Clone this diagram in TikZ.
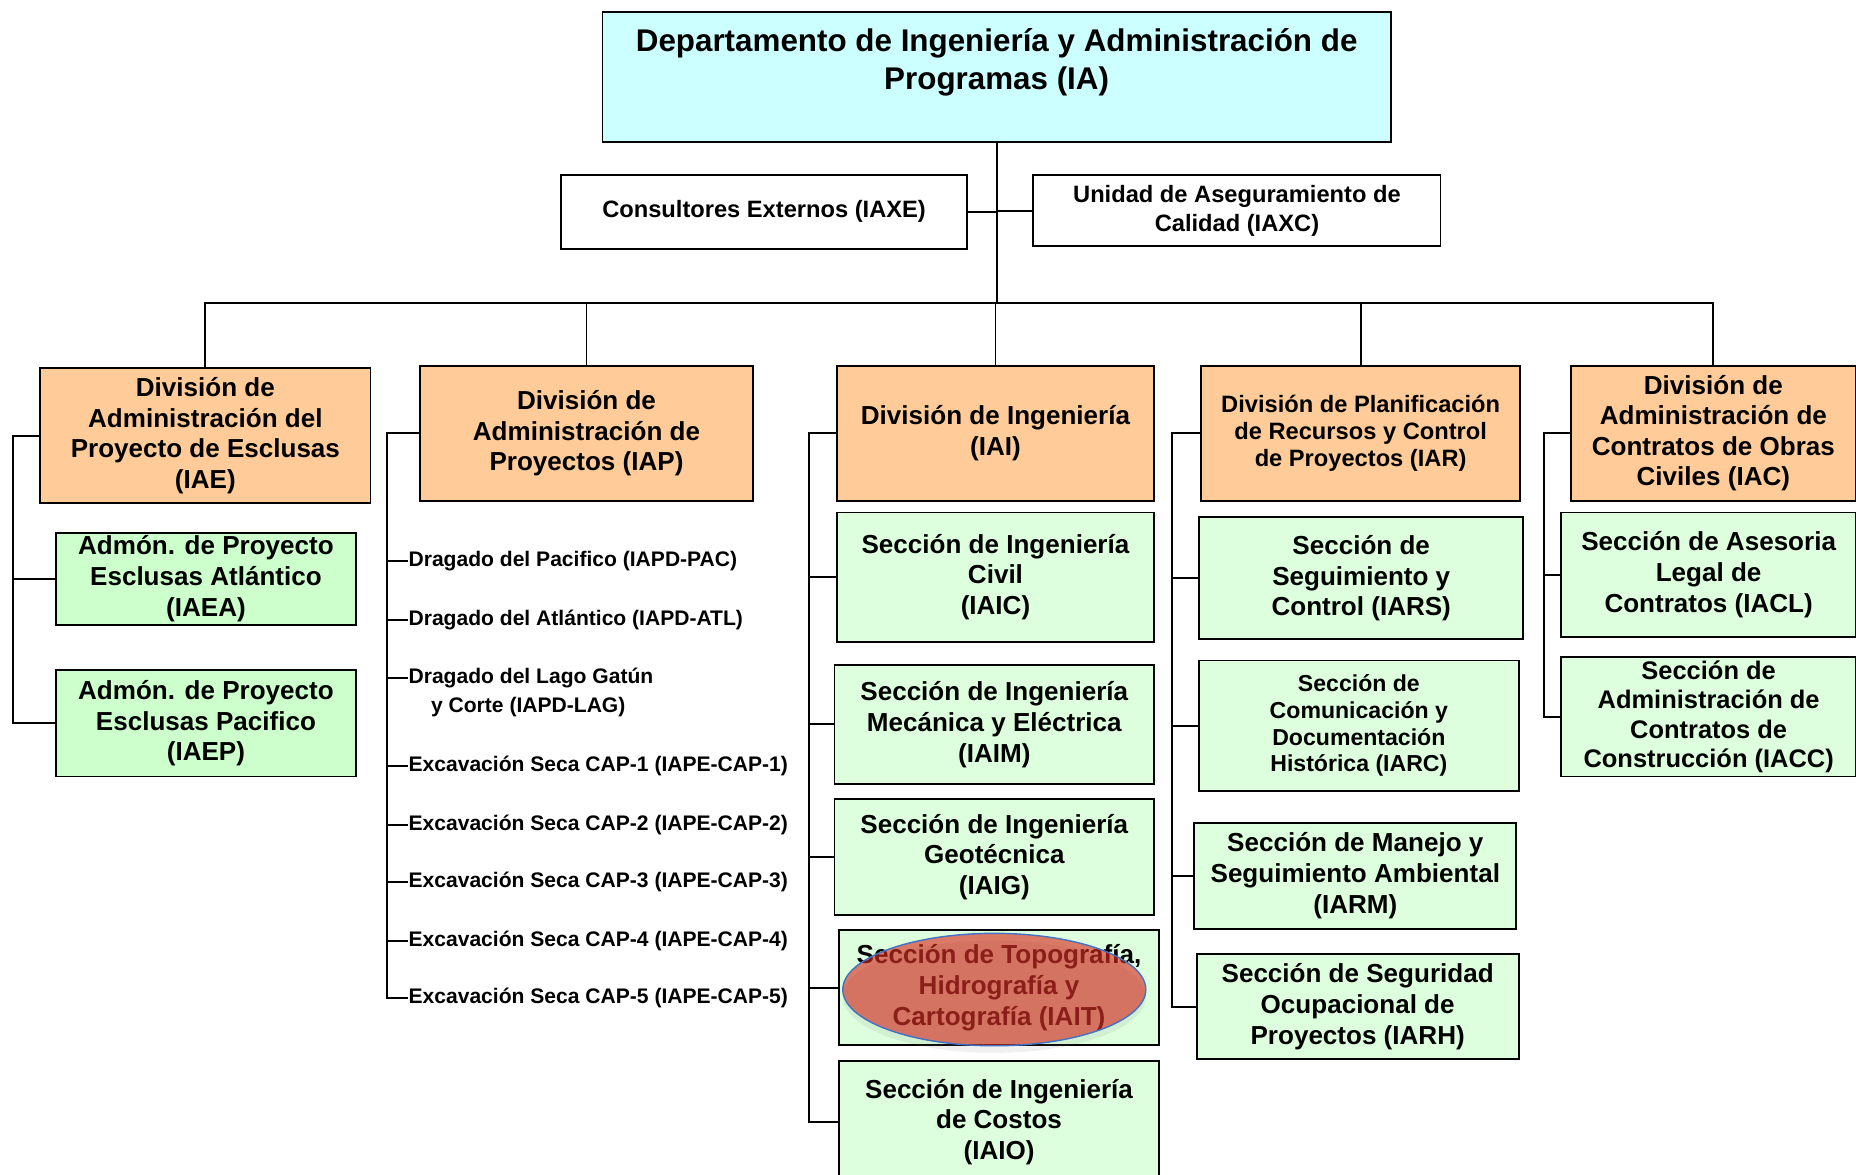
\documentclass[tikz,border=0pt]{standalone}
\usepackage{fontspec}
\setmainfont{Liberation Sans}
\usetikzlibrary{shapes.geometric,shadows}

\definecolor{iacyan}{HTML}{CCFFFF}
\definecolor{divorange}{HTML}{FFCC99}
\definecolor{secgreen}{HTML}{DDFFDD}
\definecolor{admgreen}{HTML}{CCFFCC}
\definecolor{markred}{RGB}{215,40,30}
\definecolor{markblue}{HTML}{4472C4}

\begin{document}
\begin{tikzpicture}[x=1pt,y=-1pt,
        box/.style={draw,line width=1.6pt,inner sep=2pt,align=center,
            font=\bfseries\fontsize{22}{26}\selectfont},
        div/.style={box,fill=divorange,minimum height=114pt},
        sec/.style={box,fill=secgreen},
        adm/.style={box,fill=admgreen,minimum width=254pt},
        item/.style={anchor=west,inner sep=0pt,
            font=\bfseries\fontsize{17.8}{21}\selectfont},
        link/.style={line width=1.6pt}]
\useasboundingbox (0,0) rectangle (1568,992);

% jefatura
\node[box,fill=iacyan,minimum width=666pt,minimum height=110pt] (ia) at (842,65) {};
\node[inner sep=0pt,align=center,font=\bfseries\fontsize{26.5}{32}\selectfont] (iatxt) at (842,53)
    {Departamento de Ingeniería y Administración de\\Programas (IA)};
\node[box,fill=white,minimum width=343pt,minimum height=62pt,
    font=\bfseries\fontsize{20}{24}\selectfont] (iaxe) at (645.5,179) {Consultores Externos (IAXE)};
\node[box,fill=white,minimum width=344pt,minimum height=60pt,
    font=\bfseries\fontsize{20}{24}\selectfont] (iaxc) at (1045,178) {Unidad de Aseguramiento de\\Calidad (IAXC)};

% divisiones
\node[div,minimum width=279pt] (iae) at (173.5,368) {División de\\Administración del\\Proyecto de Esclusas\\(IAE)};
\node[div,minimum width=281pt] (iap) at (495.5,366) {División de\\Administración de\\Proyectos (IAP)};
\node[div,minimum width=268pt] (iai) at (841,366) {División de Ingeniería\\(IAI)};
\node[div,minimum width=269pt,font=\bfseries\fontsize{20}{23}\selectfont] (iar) at (1149.5,366)
    {División de Planificación\\de Recursos y Control\\de Proyectos (IAR)};
\node[div,minimum width=241pt,font=\bfseries\fontsize{22}{25.5}\selectfont] (iac) at (1447.5,366)
    {División de\\Administración de\\Contratos de Obras\\Civiles (IAC)};

% IAE
\node[adm,minimum height=78pt] (iaea) at (174,489) {Admón. de Proyecto\\Esclusas Atlántico\\(IAEA)};
\node[adm,minimum height=90pt] (iaep) at (174,611) {Admón. de Proyecto\\Esclusas Pacifico\\(IAEP)};

% IAP
\node[item] (pac) at (345,474) {Dragado del Pacifico (IAPD-PAC)};
\node[item] (atl) at (345,524) {Dragado del Atlántico (IAPD-ATL)};
\node[item] (lag) at (345,573) {Dragado del Lago Gatún};
\node[item] (lagb) at (364,597) {y Corte (IAPD-LAG)};
\foreach \n/\y in {1/647,2/697,3/745,4/795,5/843}
    \node[item] (cap\n) at (345,\y) {Excavación Seca CAP-\n\ (IAPE-CAP-\n)};

% IAI
\node[sec,minimum width=268pt,minimum height=109pt] (iaic) at (841,487.5) {Sección de Ingeniería\\Civil\\(IAIC)};
\node[sec,minimum width=270pt,minimum height=100pt] (iaim) at (840,612) {Sección de Ingeniería\\Mecánica y Eléctrica\\(IAIM)};
\node[sec,minimum width=270pt,minimum height=98pt] (iaig) at (840,724) {Sección de Ingeniería\\Geotécnica\\(IAIG)};
\node[sec,minimum width=270pt,minimum height=97pt] (iait) at (844,834.5) {Sección de Topografía,\\Hidrografía y\\Cartografía (IAIT)};
\node[sec,minimum width=270pt,minimum height=104pt] (iaio) at (844,948) {Sección de Ingeniería\\de Costos\\(IAIO)};

% IAR
\node[sec,minimum width=274pt,minimum height=103pt] (iars) at (1150,488.5) {Sección de\\Seguimiento y\\Control (IARS)};
\node[sec,minimum width=270pt,minimum height=110pt,font=\bfseries\fontsize{19.5}{22.7}\selectfont] (iarc) at (1148,613)
    {Sección de\\Comunicación y\\Documentación\\Histórica (IARC)};
\node[sec,minimum width=272pt,minimum height=90pt] (iarm) at (1145,740) {Sección de Manejo y\\Seguimiento Ambiental\\(IARM)};
\node[sec,minimum width=272pt,minimum height=89pt] (iarh) at (1147,850.5) {Sección de Seguridad\\Ocupacional de\\Proyectos (IARH)};

% IAC
\node[sec,minimum width=249pt,minimum height=105pt] (iacl) at (1443.5,485.5) {Sección de Asesoria\\Legal de\\Contratos (IACL)};
\node[sec,minimum width=249pt,minimum height=101pt,font=\bfseries\fontsize{21.5}{25}\selectfont] (iacc) at (1443.5,605.5)
    {Sección de\\Administración de\\Contratos de\\Construcción (IACC)};

% conexiones
\draw[link] (ia.south) -- ++(0,135) coordinate (bus);
\draw[link] (iaxe.east) -- (iaxe.east -| ia.south);
\draw[link] (iaxc.west) -- (iaxc.west -| ia.south);
\foreach \d in {iae,iap,iai,iar,iac}
    \draw[link] (bus) -| (\d.north);
\foreach \c in {iaea,iaep}
    \draw[link] (iae.west) -- ++(-22,0) |- (\c.west);
\foreach \c in {pac,atl,lag,cap1,cap2,cap3,cap4,cap5}
    \draw[link] (iap.west) -- ++(-27,0) |- (\c.west);
\foreach \c in {iaic,iaim,iaig,iait,iaio}
    \draw[link] (iai.west) -- ++(-23,0) |- (\c.west);
\foreach \c in {iars,iarc,iarm,iarh}
    \draw[link] (iar.west) -- ++(-24,0) |- (\c.west);
\foreach \c in {iacl,iacc}
    \draw[link] (iac.west) -- ++(-22,0) |- (\c.west);

% marca sobre IAIT
\node[ellipse,fill=markred,fill opacity=0.62,draw=markblue,line width=1.2pt,
    minimum width=256pt,minimum height=95pt,
    drop shadow={opacity=0.12,shadow xshift=0pt,shadow yshift=-6pt}] (mark) at (840,836) {};
\end{tikzpicture}
\end{document}
